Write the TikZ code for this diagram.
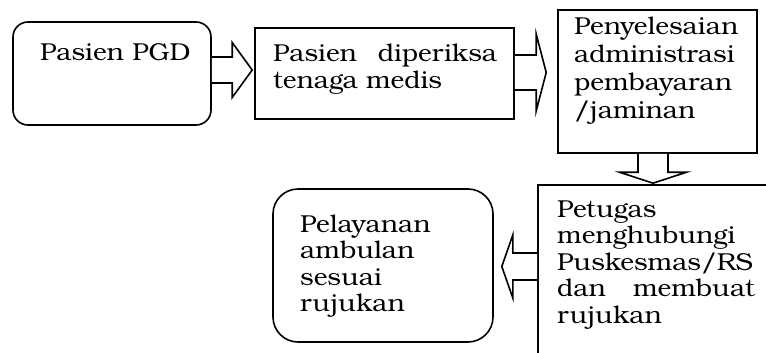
\documentclass[tikz,border=0pt]{standalone}
\usepackage{fontspec}
\setmainfont{texgyrebonum}[Extension=.otf, UprightFont=*-regular, BoldFont=*-bold, ItalicFont=*-italic, BoldItalicFont=*-bolditalic, FakeStretch=1.07]
\usetikzlibrary{calc}
\tikzset{
  box/.style={draw, line width=1.6pt, inner sep=0pt, rectangle},
  txt/.style={inner sep=0pt, font=\fontsize{24.5}{26.5}\selectfont, align=left},
  barrow/.style={draw, line width=1.6pt, line join=miter, fill=white},
}
\begin{document}
\begin{tikzpicture}[x=1pt,y=-1pt]
\useasboundingbox (0,0) rectangle (766,353);
\clip (0,0) rectangle (766,353);
\fill[white] (0,0) rectangle (766,353);
% boxes
\node (b1) [box, rounded corners=15pt, minimum width=198pt, minimum height=103pt] at (112,73.5) {};
\node (b2) [box, minimum width=259pt, minimum height=91pt] at (384.5,73.5) {};
\node (b3) [box, minimum width=199pt, minimum height=143pt] at (657.5,81.5) {};
\node (b4) [box, minimum width=242pt, minimum height=185pt] at (659,277.5) {};
\node (b5) [box, rounded corners=25pt, minimum width=220pt, minimum height=153pt] at (383,265.5) {};
% texts
\node (t1) [txt, anchor=base west] at (40,60) {Pasien PGD};
\node (t2) [txt, anchor=base west, text width=224pt] at (273,62) {Pasien\hfill diperiksa\\tenaga medis};
\node (t3) [txt, anchor=base west, text width=190pt, font=\fontsize{24.5}{27.7}\selectfont] at (574,35) {Penyelesaian\\administrasi\\pembayaran\\/jaminan};
\node (t4) [txt, anchor=base west, text width=198pt] at (557,217) {Petugas\\menghubungi\\Puskesmas/RS\\dan\hfill membuat\\rujukan};
\node (t5) [txt, anchor=base west, text width=180pt] at (300,232) {Pelayanan\\ambulan\\sesuai\\rujukan};
% block arrows
\draw[barrow] let \p1=($(b1.east)+(0,-3.5)$), \p2=($(b2.west)+(-2,-3.5)$) in
  (\x1,\y1+13pt) -- (\x2-20pt,\y1+13pt) -- (\x2-20pt,\y1+27.5pt) -- (\x2,\y1)
  -- (\x2-20pt,\y1-27.5pt) -- (\x2-20pt,\y1-13pt) -- (\x1,\y1-13pt);
\draw[barrow] let \p1=($(b2.east)+(0,-1)$), \p2=($(b3.west)+(-11,-1)$) in
  (\x1,\y1+17.5pt) -- (\x2-10pt,\y1+17.5pt) -- (\x2-10pt,\y1+38.5pt) -- (\x2,\y1)
  -- (\x2-10pt,\y1-38.5pt) -- (\x2-10pt,\y1-17.5pt) -- (\x1,\y1-17.5pt);
\draw[barrow] let \p1=($(b3.south)+(-4.5,0)$), \p2=($(b4.north)+(-6,-1)$) in
  (\x1-15pt,\y1) -- (\x1-15pt,\y2+11pt) -- (\x1-33.5pt,\y2+11pt) -- (\x1,\y2)
  -- (\x1+33.5pt,\y2+11pt) -- (\x1+15pt,\y2+11pt) -- (\x1+15pt,\y1);
\draw[barrow] let \p1=($(b4.west)+(0,-11)$), \p2=($(b5.east)+(8,-11)$) in
  (\x1,\y1+13.5pt) -- (\x2+11pt,\y1+13.5pt) -- (\x2+11pt,\y1+31.5pt) -- (\x2,\y1)
  -- (\x2+11pt,\y1-31.5pt) -- (\x2+11pt,\y1-13.5pt) -- (\x1,\y1-13.5pt);
\end{tikzpicture}
\end{document}
